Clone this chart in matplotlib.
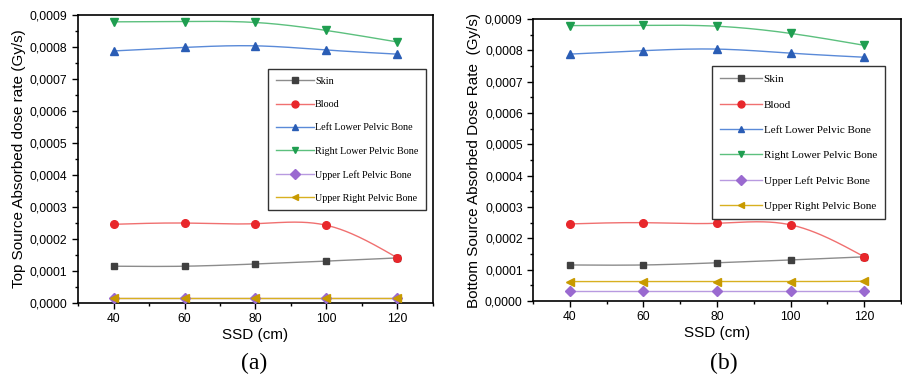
import numpy as np
import matplotlib.pyplot as plt
from matplotlib.ticker import FuncFormatter, MultipleLocator

ssd = [40, 60, 80, 100, 120]
labels = ['Skin', 'Blood', 'Left Lower Pelvic Bone', 'Right Lower Pelvic Bone',
          'Upper Left Pelvic Bone', 'Upper Right Pelvic Bone']

top_skin = [0.000115, 0.000115, 0.000122, 0.000131, 0.000141]
top_blood = [0.000246, 0.000250, 0.000248, 0.000243, 0.000141]
top_left_lower = [0.000788, 0.000799, 0.000804, 0.000791, 0.000778]
top_right_lower = [0.000879, 0.000880, 0.000877, 0.000852, 0.000816]
top_upper_left = [0.000016, 0.000016, 0.000016, 0.000016, 0.000016]
top_upper_right = [0.000016, 0.000016, 0.000016, 0.000016, 0.000016]

bot_skin = [0.000115, 0.000115, 0.000122, 0.000131, 0.000141]
bot_blood = [0.000246, 0.000250, 0.000248, 0.000243, 0.000141]
bot_left_lower = [0.000788, 0.000799, 0.000804, 0.000791, 0.000778]
bot_right_lower = [0.000879, 0.000880, 0.000877, 0.000854, 0.000816]
bot_upper_left = [0.000033, 0.000033, 0.000033, 0.000033, 0.000033]
bot_upper_right = [0.000062, 0.000062, 0.000062, 0.000062, 0.000063]

markers = ['s', 'o', '^', 'v', 'D', '<']
mcolors = ['#404040', '#e8272b', '#2a5db5', '#1f9e50', '#9a6ad0', '#c89a00']
lcolors = ['#8c8c8c', '#f07070', '#5a8ad8', '#5cc07e', '#b89ae0', '#d8b020']
msizes = [5, 5.5, 6, 6, 5, 6]


def spline(x, y, n=200):
    # natural cubic spline, just for drawing the smooth connecting line
    x = np.asarray(x, float)
    y = np.asarray(y, float)
    k = len(x)
    h = np.diff(x)
    A = np.zeros((k, k))
    b = np.zeros(k)
    A[0, 0] = A[-1, -1] = 1
    for i in range(1, k - 1):
        A[i, i - 1] = h[i - 1]
        A[i, i] = 2 * (h[i - 1] + h[i])
        A[i, i + 1] = h[i]
        b[i] = 6 * ((y[i + 1] - y[i]) / h[i] - (y[i] - y[i - 1]) / h[i - 1])
    m = np.linalg.solve(A, b)
    xs = np.linspace(x[0], x[-1], n)
    idx = np.clip(np.searchsorted(x, xs) - 1, 0, k - 2)
    t = xs - x[idx]
    hi = h[idx]
    a = (m[idx + 1] - m[idx]) / (6 * hi)
    bb = m[idx] / 2
    c = (y[idx + 1] - y[idx]) / hi - hi * (2 * m[idx] + m[idx + 1]) / 6
    return xs, y[idx] + c * t + bb * t ** 2 + a * t ** 3


def panel(ax, series, ylabel, legbox, legsize):
    for i, ys in enumerate(series):
        xs, ss = spline(ssd, ys)
        ax.plot(xs, ss, color=lcolors[i], lw=1.0, zorder=2)
        ax.plot(ssd, ys, ls='none', marker=markers[i], color=mcolors[i],
                ms=msizes[i], zorder=3)
    ax.set_xlim(30, 130)
    ax.set_ylim(0, 0.0009)
    ax.xaxis.set_major_locator(MultipleLocator(20))
    ax.xaxis.set_minor_locator(MultipleLocator(10))
    ax.set_xticks([40, 60, 80, 100, 120])
    ax.yaxis.set_major_locator(MultipleLocator(0.0001))
    ax.yaxis.set_minor_locator(MultipleLocator(0.00005))
    ax.yaxis.set_major_formatter(FuncFormatter(lambda v, p: f'{v:.4f}'.replace('.', ',')))
    ax.tick_params(which='both', direction='out', labelsize=8.7)
    ax.tick_params(which='major', length=4, width=1)
    ax.tick_params(which='minor', length=2.5, width=1)
    for s in ax.spines.values():
        s.set_linewidth(1.2)
    ax.set_xlabel('SSD (cm)', fontsize=11, labelpad=2)
    ax.set_ylabel(ylabel, fontsize=11, labelpad=3)
    handles = [plt.Line2D([], [], color=lcolors[i], lw=1.0, marker=markers[i],
                          mfc=mcolors[i], mec=mcolors[i], ms=5)
               for i in range(6)]
    leg = ax.legend(handles, labels, loc='upper left', bbox_to_anchor=legbox,
                    prop={'family': 'Liberation Serif', 'size': legsize},
                    handlelength=3.8, handletextpad=0.1, labelspacing=1.4,
                    borderpad=0.75, fancybox=False, edgecolor='#333333',
                    framealpha=1, numpoints=1, borderaxespad=0)
    leg.get_frame().set_linewidth(1.0)


plt.rcParams['font.family'] = ['Liberation Sans', 'DejaVu Sans']
fig = plt.figure(figsize=(9.02, 3.78), dpi=100)
ax1 = fig.add_axes([0.0865, 0.1984, 0.3935, 0.7616])
ax2 = fig.add_axes([0.591, 0.2037, 0.408, 0.746])

panel(ax1, [top_skin, top_blood, top_left_lower, top_right_lower,
            top_upper_left, top_upper_right],
      'Top Source Absorbed dose rate (Gy/s)', (0.535, 0.8125), 7.3)
panel(ax2, [bot_skin, bot_blood, bot_left_lower, bot_right_lower,
            bot_upper_left, bot_upper_right],
      'Bottom Source Absorbed Dose Rate  (Gy/s)', (0.486, 0.833), 8.0)

fig.text(0.282, 0.025, '(a)', family='Liberation Serif', fontsize=17, ha='center')
fig.text(0.802, 0.025, '(b)', family='Liberation Serif', fontsize=17, ha='center')

fig.savefig('out.png', dpi=100)
